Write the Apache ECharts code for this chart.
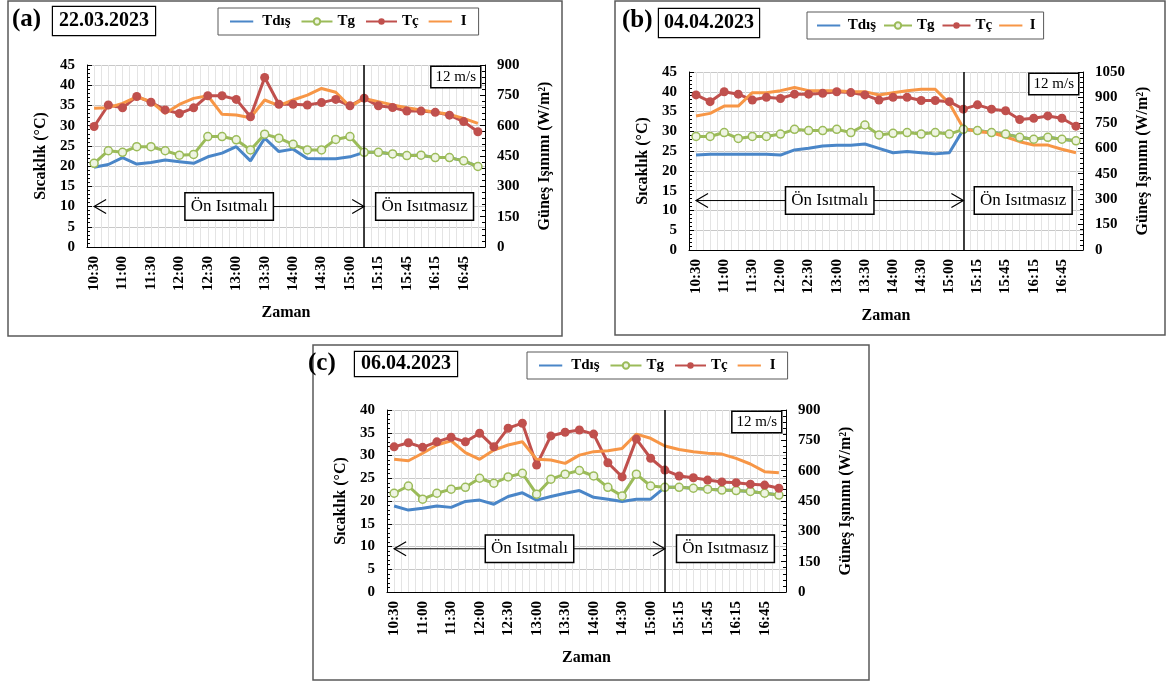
<!DOCTYPE html>
<html><head><meta charset="utf-8">
<script src="https://cdn.jsdelivr.net/npm/echarts@6/dist/echarts.min.js"></script>
<style>html,body{margin:0;padding:0;background:#fff}#c{width:1168px;height:684px}</style>
</head><body><div id="c"></div><script>
// ---------- data ----------
const categories = ['10:30','10:45','11:00','11:15','11:30','11:45','12:00','12:15','12:30','12:45','13:00','13:15','13:30','13:45','14:00','14:15','14:30','14:45','15:00','15:07','15:15','15:30','15:45','16:00','16:15','16:30','16:45','17:00'];
const seriesNames = ['Tdış','Tg','Tç','I'];
const panelLabels = ['(a)','(b)','(c)'];
const panelDates = ['22.03.2023','04.04.2023','06.04.2023'];
const splitCategory = '15:07';

// (a) 22.03.2023
const aTdis = [19.7,20.4,22.1,20.5,20.9,21.5,21.1,20.7,22.3,23.2,24.8,21.3,26.9,23.6,24.2,21.9,21.8,21.8,22.3,23.4,23.4,23.0,22.6,22.7,22.1,22.1,21.3,19.9];
const aTg   = [20.7,23.8,23.4,24.8,24.8,23.8,22.7,22.9,27.3,27.3,26.5,24.0,27.9,26.9,25.4,24.0,24.0,26.6,27.3,23.4,23.4,23.0,22.6,22.7,22.1,22.1,21.3,19.9];
const aTc   = [29.8,35.1,34.4,37.2,35.8,33.9,33.0,34.4,37.4,37.4,36.5,32.2,41.9,35.3,35.3,35.1,35.7,36.5,34.9,36.8,34.9,34.5,33.6,33.6,33.3,32.6,31.0,28.5];
const aI    = [686,689,710,743,719,661,705,735,748,656,653,639,727,699,727,751,784,765,694,735,719,702,689,677,666,656,636,611];

// (b) 04.04.2023
const bTdis = [24.0,24.2,24.2,24.2,24.2,24.2,24.0,25.3,25.7,26.3,26.5,26.5,26.8,25.7,24.6,24.9,24.6,24.3,24.6,30.5,30.2,29.7,29.3,28.5,28.0,28.5,28.0,27.6];
const bTg   = [28.7,28.7,29.7,28.2,28.7,28.7,29.3,30.5,30.2,30.2,30.5,29.7,31.6,29.1,29.5,29.7,29.3,29.7,29.3,30.5,30.2,29.7,29.3,28.5,28.0,28.5,28.0,27.6];
const bTc   = [39.2,37.5,40.0,39.4,37.9,38.6,38.3,39.4,39.4,39.6,40.0,39.8,39.2,37.9,38.6,38.6,37.8,37.8,37.5,35.6,36.7,35.6,35.2,33.0,33.3,33.9,33.3,31.3];
const bI    = [790,806,849,849,928,928,940,959,940,940,940,934,934,914,928,940,948,948,865,718,698,692,668,639,619,619,594,574];

// (c) 06.04.2023
const cTdis = [18.9,18.0,18.4,18.9,18.6,19.9,20.2,19.3,21.0,21.8,20.2,21.0,21.7,22.3,20.8,20.4,19.9,20.4,20.4,23.0,23.0,22.8,22.6,22.4,22.3,22.1,21.7,21.3];
const cTg   = [21.7,23.3,20.4,21.7,22.6,23.0,25.0,23.9,25.3,26.1,21.5,24.8,25.9,26.7,25.5,23.0,21.1,25.9,23.3,23.0,23.0,22.8,22.6,22.4,22.3,22.1,21.7,21.3];
const cTc   = [31.9,32.8,31.8,33.0,34.0,33.0,34.9,31.9,36.0,37.1,27.9,34.3,35.1,35.6,34.7,28.4,25.3,33.6,29.4,26.8,25.5,25.1,24.6,24.2,24.0,23.7,23.5,22.8];
const cI    = [656,649,686,727,748,689,656,702,727,743,656,653,636,677,694,699,710,781,760,722,705,694,686,682,661,633,595,590];

const leftMax = [45,45,40];
const rightMax = [900,1050,900];
const arrowLevel = [10,12.5,9.5];
const windText = '12 m/s';
const preText = 'Ön Isıtmalı';
const noPreText = 'Ön Isıtmasız';

// ---------- layout / style ----------
const SERIF = '"Liberation Serif","Times New Roman",serif';
const BLUE = '#4A86C8', GREEN = '#9BBB59', RED = '#C0504D', ORANGE = '#F79646';
const LINE_ICON = 'path://M0,0h0.01v0.01h-0.01z M0,4h32v3h-32z M0,11h0.01v0.01h-0.01z';
const GRIDS = [
  {left:87, top:65, width:398, height:182},
  {left:689, top:72, width:394, height:178},
  {left:387, top:410, width:399, height:182}
];
const FRAMES = [
  {x:8, y:1, w:554, h:335},
  {x:615, y:1, w:550, h:334},
  {x:313, y:345, w:556, h:335}
];
const HEAD = [
  {lx:12, ly:7, dx:53, dy:7, dpad:[4,6,4,6], legL:218, legT:8, gap:10, iw:31, pad:[6,12,6,12], fs:15},
  {lx:622, ly:8, dx:659, dy:9, dpad:[4,5,4,5], legL:807, legT:12, gap:7, iw:28, pad:[6,8,6,10], fs:15},
  {lx:308, ly:351, dx:355, dy:352, dpad:[2,6,2,6], legL:527, legT:352, gap:10, iw:31, pad:[6,12,6,12], fs:15}
];
const panels = [
  {tdis:aTdis, tg:aTg, tc:aTc, irr:aI},
  {tdis:bTdis, tg:bTg, tc:bTc, irr:bI},
  {tdis:cTdis, tg:cTg, tc:cTc, irr:cI}
];

const boldText = (size) => ({fontFamily:SERIF, fontWeight:'bold', fontSize:size, color:'#000'});

const grid = [], xAxis = [], yAxis = [], series = [], legend = [];
panels.forEach((p, g) => {
  grid.push(Object.assign({containLabel:false}, GRIDS[g]));
  xAxis[g] = {
    type:'category', gridIndex:g, data:categories, boundaryGap:true,
    axisLine:{lineStyle:{color:'#000', width:1}},
    axisTick:{interval:0, length:5, lineStyle:{color:'#000'}},
    axisLabel:Object.assign({interval:1, rotate:90, margin:9}, boldText(15)),
    name:'Zaman', nameLocation:'middle', nameGap:58, nameTextStyle:boldText(16),
    splitLine:{show:false}
  };
  xAxis[3+g] = {
    type:'value', gridIndex:g, min:0, max:56, interval:1, position:'top',
    axisLine:{show:false}, axisTick:{show:false}, axisLabel:{show:false},
    splitLine:{show:true, lineStyle:{color:'#e4e4e4', width:1}}
  };
  yAxis.push({
    type:'value', gridIndex:g, min:0, max:leftMax[g], interval:5, position:'left',
    name:'Sıcaklık (°C)', nameLocation:'middle', nameRotate:90, nameGap:38, nameTextStyle:boldText(16),
    axisLine:{show:true, lineStyle:{color:'#000'}},
    axisTick:{show:true, inside:true, length:5, lineStyle:{color:'#000'}},
    minorTick:{show:true, splitNumber:5, length:3, lineStyle:{color:'#000'}},
    axisLabel:Object.assign({margin:12, formatter:(v) => String(v)}, boldText(15)),
    splitLine:{show:true, lineStyle:{color:'#c8c8c8', width:1}}
  });
  yAxis.push({
    type:'value', gridIndex:g, min:0, max:rightMax[g], interval:150, position:'right',
    name:'Güneş Işınımı (W/m²)', nameLocation:'middle', nameRotate:90, nameGap:52, nameTextStyle:boldText(16),
    axisLine:{show:true, lineStyle:{color:'#000'}},
    axisTick:{show:true, inside:true, length:5, lineStyle:{color:'#000'}},
    minorTick:{show:true, splitNumber:5, length:3, lineStyle:{color:'#000'}},
    axisLabel:Object.assign({margin:12, formatter:(v) => String(v)}, boldText(15)),
    splitLine:{show:false}
  });
  series.push({
    name:'Tdış', type:'line', xAxisIndex:g, yAxisIndex:2*g, data:p.tdis, symbol:'none',
    lineStyle:{color:BLUE, width:3}, itemStyle:{color:BLUE},
    markLine:{silent:true, symbol:'none', label:{show:false}, lineStyle:{color:'#000', width:1.5, type:'solid'},
      data:[{xAxis:splitCategory}]}
  });
  series.push({
    name:'Tg', type:'line', xAxisIndex:g, yAxisIndex:2*g, data:p.tg, symbol:'circle', symbolSize:8,
    lineStyle:{color:GREEN, width:3}, itemStyle:{color:'#eef4e2', borderColor:GREEN, borderWidth:1.5}
  });
  series.push({
    name:'Tç', type:'line', xAxisIndex:g, yAxisIndex:2*g, data:p.tc, symbol:'circle', symbolSize:9,
    lineStyle:{color:RED, width:3}, itemStyle:{color:RED}
  });
  series.push({
    name:'I', type:'line', xAxisIndex:g, yAxisIndex:2*g+1, data:p.irr, symbol:'none',
    lineStyle:{color:ORANGE, width:3}, itemStyle:{color:ORANGE}
  });
  const h = HEAD[g];
  legend.push({
    left:h.legL, top:h.legT, orient:'horizontal',
    data:[
      {name:seriesNames[0], icon:LINE_ICON, itemStyle:{color:BLUE}},
      {name:seriesNames[1]},
      {name:seriesNames[2]},
      {name:seriesNames[3], icon:LINE_ICON, itemStyle:{color:ORANGE}}
    ],
    itemWidth:h.iw, itemHeight:8, itemGap:h.gap, padding:h.pad,
    borderColor:'#595959', borderWidth:1, backgroundColor:'#fff', selectedMode:false,
    textStyle:boldText(h.fs)
  });
});

const chart = echarts.init(document.getElementById('c'));
chart.setOption({animation:false, backgroundColor:'#fff', grid, xAxis, yAxis, series, legend});

// ---------- annotations (positions derived from the axes) ----------
const els = [];
const boxStyle = (txt, size, align, vAlign, pad) => ({
  text:txt, font:size+'px '+SERIF, fill:'#000', align:align, verticalAlign:vAlign,
  backgroundColor:'#fff', borderColor:'#000', borderWidth:1.5, padding:pad
});
panels.forEach((p, g) => {
  const f = FRAMES[g], h = HEAD[g], gr = GRIDS[g];
  els.push({type:'rect', shape:{x:f.x, y:f.y, width:f.w, height:f.h}, style:{fill:null, stroke:'#595959', lineWidth:1.5}, z:50});
  els.push({type:'text', x:h.lx, y:h.ly, style:{text:panelLabels[g], font:'bold 25px '+SERIF, fill:'#000', align:'left', verticalAlign:'top'}, z:60});
  els.push({type:'text', x:h.dx, y:h.dy, style:{text:panelDates[g], font:'bold 20px '+SERIF, fill:'#000', align:'left', verticalAlign:'top',
    backgroundColor:'#fff', borderColor:'#000', borderWidth:1.2, padding:h.dpad}, z:60});

  const finder = {xAxisIndex:g, yAxisIndex:2*g};
  const p0 = chart.convertToPixel(finder, [categories[0], arrowLevel[g]]);
  const p1 = chart.convertToPixel(finder, [splitCategory, arrowLevel[g]]);
  const y = p0[1];
  const xr = gr.left + gr.width;
  els.push({type:'line', shape:{x1:p0[0], y1:y, x2:p1[0], y2:y}, style:{stroke:'#000', lineWidth:1}, z:60});
  els.push({type:'polyline', shape:{points:[[p0[0]+12, y-7],[p0[0], y],[p0[0]+12, y+7]]}, style:{stroke:'#000', lineWidth:1.2, fill:null}, z:60});
  els.push({type:'polyline', shape:{points:[[p1[0]-12, y-7],[p1[0], y],[p1[0]-12, y+7]]}, style:{stroke:'#000', lineWidth:1.2, fill:null}, z:60});
  els.push({type:'text', x:(p0[0]+p1[0])/2, y:y, style:boxStyle(preText, 17, 'center', 'middle', [5,5,4,5]), z:61});
  els.push({type:'text', x:(p1[0]+xr)/2, y:y, style:boxStyle(noPreText, 17, 'center', 'middle', [5,5,4,5]), z:61});
  els.push({type:'text', x:xr-5, y:gr.top+2, style:boxStyle(windText, 15, 'right', 'top', [3,4,2,4]), z:61});
});
chart.setOption({graphic:els});
</script></body></html>
